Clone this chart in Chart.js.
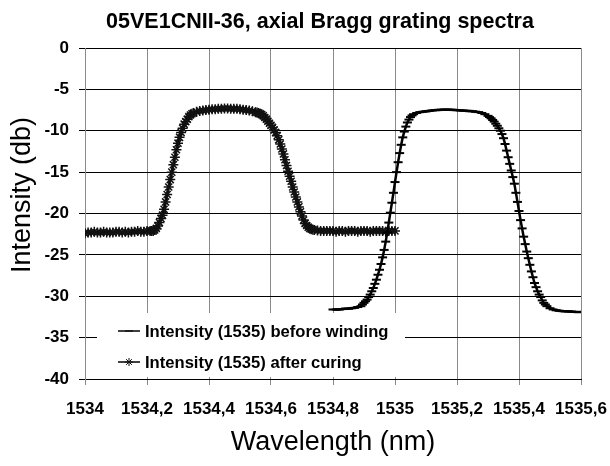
<!DOCTYPE html>
<html>
<head>
<meta charset="utf-8">
<title>05VE1CNII-36, axial Bragg grating spectra</title>
<script src="https://cdn.jsdelivr.net/npm/chart.js@4.4.1/dist/chart.umd.min.js"></script>
<style>
  html, body { margin: 0; padding: 0; background: #fff; }
  canvas { display: block; }
</style>
</head>
<body>
<canvas id="spektroa" width="610" height="466"></canvas>
<script>
// wavelength (nm) / intensity (db)
const windingWl = [
  1534.80, 1534.81, 1534.82, 1534.83, 1534.84, 1534.85, 1534.86, 1534.87, 1534.88, 1534.89,
  1534.895, 1534.900, 1534.905, 1534.910, 1534.915, 1534.920, 1534.925, 1534.930, 1534.935, 1534.940,
  1534.945, 1534.950, 1534.955, 1534.960, 1534.965, 1534.970, 1534.975, 1534.980, 1534.985, 1534.990,
  1534.995, 1535.000, 1535.005, 1535.010, 1535.015, 1535.020, 1535.025, 1535.030, 1535.035, 1535.040,
  1535.045, 1535.050, 1535.055, 1535.060, 1535.07, 1535.08, 1535.09, 1535.10, 1535.11, 1535.12,
  1535.13, 1535.14, 1535.15, 1535.16, 1535.17, 1535.18, 1535.19, 1535.20, 1535.21, 1535.22,
  1535.23, 1535.24, 1535.25, 1535.26, 1535.27, 1535.28, 1535.29, 1535.30, 1535.305, 1535.310,
  1535.315, 1535.320, 1535.325, 1535.330, 1535.335, 1535.340, 1535.345, 1535.350, 1535.355, 1535.360,
  1535.365, 1535.370, 1535.375, 1535.380, 1535.385, 1535.390, 1535.395, 1535.400, 1535.405, 1535.410,
  1535.415, 1535.420, 1535.425, 1535.430, 1535.435, 1535.440, 1535.445, 1535.450, 1535.455, 1535.460,
  1535.465, 1535.470, 1535.475, 1535.480, 1535.485, 1535.490, 1535.50, 1535.51, 1535.52, 1535.53,
  1535.54, 1535.55, 1535.56, 1535.57, 1535.58, 1535.59, 1535.60
];
const windingDb = [
  -31.6, -31.6, -31.6, -31.55, -31.5, -31.5, -31.45, -31.4, -31.3, -31.2,
  -31.0, -30.8, -30.6, -30.4, -30.1, -29.8, -29.4, -29.0, -28.5, -28.0,
  -27.4, -26.8, -26.1, -25.3, -24.4, -23.4, -22.3, -21.1, -19.9, -18.7,
  -17.5, -16.2, -15.0, -13.8, -12.7, -11.7, -10.8, -10.1, -9.5, -9.0,
  -8.65, -8.35, -8.15, -8.0, -7.85, -7.75, -7.7, -7.65, -7.6, -7.55,
  -7.5, -7.5, -7.45, -7.45, -7.45, -7.45, -7.5, -7.5, -7.55, -7.55,
  -7.6, -7.6, -7.65, -7.7, -7.75, -7.85, -8.0, -8.2, -8.35, -8.5,
  -8.7, -8.9, -9.15, -9.4, -9.7, -10.0, -10.4, -10.9, -11.6, -12.4,
  -13.2, -14.0, -14.8, -15.6, -16.4, -17.5, -18.6, -19.7, -20.8, -21.8,
  -22.8, -23.7, -24.6, -25.4, -26.2, -27.0, -27.7, -28.4, -28.9, -29.4,
  -29.8, -30.1, -30.5, -30.8, -31.0, -31.2, -31.45, -31.6, -31.7, -31.75,
  -31.8, -31.8, -31.85, -31.85, -31.9, -31.9, -31.9
];

const curingWl = [
  1534.00, 1534.01, 1534.02, 1534.03, 1534.04, 1534.05, 1534.06, 1534.07, 1534.08, 1534.09,
  1534.10, 1534.11, 1534.12, 1534.13, 1534.14, 1534.15, 1534.16, 1534.17, 1534.18, 1534.19,
  1534.20, 1534.21, 1534.215, 1534.220, 1534.225, 1534.230, 1534.235, 1534.240, 1534.245, 1534.250,
  1534.255, 1534.260, 1534.265, 1534.270, 1534.275, 1534.280, 1534.285, 1534.290, 1534.295, 1534.300,
  1534.305, 1534.310, 1534.315, 1534.320, 1534.325, 1534.330, 1534.335, 1534.340, 1534.345, 1534.350,
  1534.36, 1534.37, 1534.38, 1534.39, 1534.40, 1534.41, 1534.42, 1534.43, 1534.44, 1534.45,
  1534.46, 1534.47, 1534.48, 1534.49, 1534.50, 1534.51, 1534.52, 1534.53, 1534.54, 1534.55,
  1534.555, 1534.560, 1534.565, 1534.570, 1534.575, 1534.580, 1534.585, 1534.590, 1534.595, 1534.600,
  1534.605, 1534.610, 1534.615, 1534.620, 1534.625, 1534.630, 1534.635, 1534.640, 1534.645, 1534.650,
  1534.655, 1534.660, 1534.665, 1534.670, 1534.675, 1534.680, 1534.685, 1534.690, 1534.695, 1534.700,
  1534.705, 1534.710, 1534.715, 1534.720, 1534.725, 1534.730, 1534.735, 1534.740, 1534.75, 1534.76,
  1534.77, 1534.78, 1534.79, 1534.80, 1534.81, 1534.82, 1534.83, 1534.84, 1534.85, 1534.86,
  1534.87, 1534.88, 1534.89, 1534.90, 1534.91, 1534.92, 1534.93, 1534.94, 1534.95, 1534.96,
  1534.97, 1534.98, 1534.99, 1535.00
];
const curingDb = [
  -22.4, -22.3, -22.3, -22.2, -22.3, -22.3, -22.2, -22.3, -22.3, -22.3,
  -22.2, -22.2, -22.3, -22.2, -22.3, -22.2, -22.2, -22.1, -22.2, -22.2,
  -22.1, -22.1, -22.1, -22.1, -22.0, -21.8, -21.5, -21.1, -20.6, -20.2,
  -19.5, -18.6, -17.7, -16.8, -15.9, -15.0, -14.1, -13.2, -12.3, -11.5,
  -10.8, -10.2, -9.7, -9.2, -8.9, -8.6, -8.3, -8.1, -7.95, -7.85,
  -7.7, -7.6, -7.55, -7.5, -7.45, -7.4, -7.4, -7.35, -7.35, -7.3,
  -7.3, -7.35, -7.35, -7.35, -7.4, -7.45, -7.5, -7.55, -7.65, -7.75,
  -7.8, -7.85, -7.95, -8.05, -8.2, -8.4, -8.6, -8.85, -9.1, -9.35,
  -9.6, -9.9, -10.2, -10.6, -11.1, -11.6, -12.2, -12.8, -13.5, -14.2,
  -14.9, -15.5, -16.1, -16.8, -17.4, -18.0, -18.6, -19.2, -19.8, -20.3,
  -20.8, -21.2, -21.45, -21.65, -21.8, -21.9, -21.95, -22.0, -22.05, -22.1,
  -22.1, -22.1, -22.1, -22.1, -22.2, -22.1, -22.1, -22.2, -22.1, -22.1,
  -22.1, -22.2, -22.1, -22.1, -22.1, -22.2, -22.1, -22.1, -22.1, -22.1,
  -22.2, -22.1, -22.1, -22.1
];

const xTicks = [1534, 1534.2, 1534.4, 1534.6, 1534.8, 1535, 1535.2, 1535.4, 1535.6];
const xTickLabels = ['1534', '1534,2', '1534,4', '1534,6', '1534,8', '1535', '1535,2', '1535,4', '1535,6'];

const FONT = "'Liberation Sans', Arial, sans-serif";
Chart.defaults.font.family = FONT;
Chart.defaults.color = '#000';

function puntuak(wl, db) {
    return wl.map((x, i) => ({ x: x, y: db[i] }));
}

// legend sits inside the plot, on a white box, bottom left
const legendaPlugin = {
    id: 'legenda',
    beforeDatasetsDraw(chart) {
        const a = chart.chartArea;
        const ctx = chart.ctx;
        ctx.save();
        ctx.fillStyle = '#fff';
        ctx.fillRect(a.left + 12, a.bottom - 66, 308, 64);
        ctx.restore();
    },
    afterDatasetsDraw(chart) {
        const a = chart.chartArea;
        const ctx = chart.ctx;
        chart.data.datasets.forEach((ds, i) => {
            const y = a.bottom - 48 + i * 31;
            ctx.save();
            ctx.strokeStyle = '#000';
            ctx.lineWidth = 1.5;
            ctx.beginPath();
            ctx.moveTo(a.left + 33, y);
            ctx.lineTo(a.left + 55, y);
            ctx.stroke();
            ctx.strokeStyle = ds.pointBorderColor;
            ctx.fillStyle = ds.pointBorderColor;
            ctx.lineWidth = 1;
            Chart.helpers.drawPoint(ctx, {
                pointStyle: ds.pointStyle,
                radius: 4,
                borderWidth: 1,
                rotation: 0
            }, a.left + 44, y);
            ctx.fillStyle = '#000';
            ctx.font = 'bold 16.6px ' + FONT;
            ctx.textAlign = 'left';
            ctx.textBaseline = 'middle';
            ctx.fillText(ds.label, a.left + 60, y + 1);
            ctx.restore();
        });
    }
};

// chart title and axis titles
const izenburuak = {
    id: 'izenburuak',
    afterDraw(chart) {
        const a = chart.chartArea;
        const ctx = chart.ctx;
        ctx.save();
        ctx.fillStyle = '#000';
        ctx.textAlign = 'center';
        ctx.textBaseline = 'middle';
        ctx.font = 'bold 21.5px ' + FONT;
        ctx.fillText('05VE1CNII-36, axial Bragg grating spectra', 320, 22);
        ctx.font = '27px ' + FONT;
        ctx.fillText('Wavelength (nm)', (a.left + a.right) / 2, 443);
        ctx.translate(23, 195);
        ctx.rotate(-Math.PI / 2);
        ctx.fillText('Intensity (db)', 0, 0);
        ctx.restore();
    }
};

new Chart(document.getElementById('spektroa'), {
    type: 'scatter',
    data: {
        datasets: [
            {
                label: 'Intensity (1535) before winding',
                data: puntuak(windingWl, windingDb),
                showLine: true,
                borderColor: '#000',
                borderWidth: 2.5,
                pointStyle: 'line',
                pointRadius: 4.5,
                pointBorderColor: '#000',
                pointBackgroundColor: '#000',
                pointBorderWidth: 2
            },
            {
                label: 'Intensity (1535) after curing',
                data: puntuak(curingWl, curingDb),
                showLine: true,
                borderColor: '#000',
                borderWidth: 2.5,
                pointStyle: 'star',
                pointRadius: 5,
                pointBorderColor: '#111',
                pointBackgroundColor: '#111',
                pointBorderWidth: 1.5
            }
        ]
    },
    options: {
        responsive: false,
        animation: false,
        layout: { padding: { left: 0, right: 29, top: 48, bottom: 0 } },
        plugins: {
            legend: { display: false },
            tooltip: { enabled: false },
            title: { display: false }
        },
        scales: {
            x: {
                type: 'linear',
                min: 1534,
                max: 1535.6,
                afterBuildTicks: s => { s.ticks = xTicks.map(v => ({ value: v })); },
                afterFit: s => { s.height = 87; s.paddingLeft = 0; s.paddingRight = 0; },
                ticks: {
                    callback: (v, i) => xTickLabels[i],
                    font: { size: 17, weight: 'bold' },
                    color: '#000',
                    padding: 14,
                    maxRotation: 0,
                    autoSkip: false
                },
                grid: { color: '#8a8a8a', lineWidth: 1, tickLength: 6 },
                border: { color: '#000' }
            },
            y: {
                min: -40,
                max: 0,
                afterFit: s => { s.width = 85; s.paddingTop = 0; s.paddingBottom = 0; },
                ticks: {
                    stepSize: 5,
                    font: { size: 17, weight: 'bold' },
                    color: '#000',
                    padding: 10
                },
                grid: { color: '#000', lineWidth: 1, tickLength: 6 },
                border: { color: '#8a8a8a' }
            }
        }
    },
    plugins: [legendaPlugin, izenburuak]
});
</script>
</body>
</html>
